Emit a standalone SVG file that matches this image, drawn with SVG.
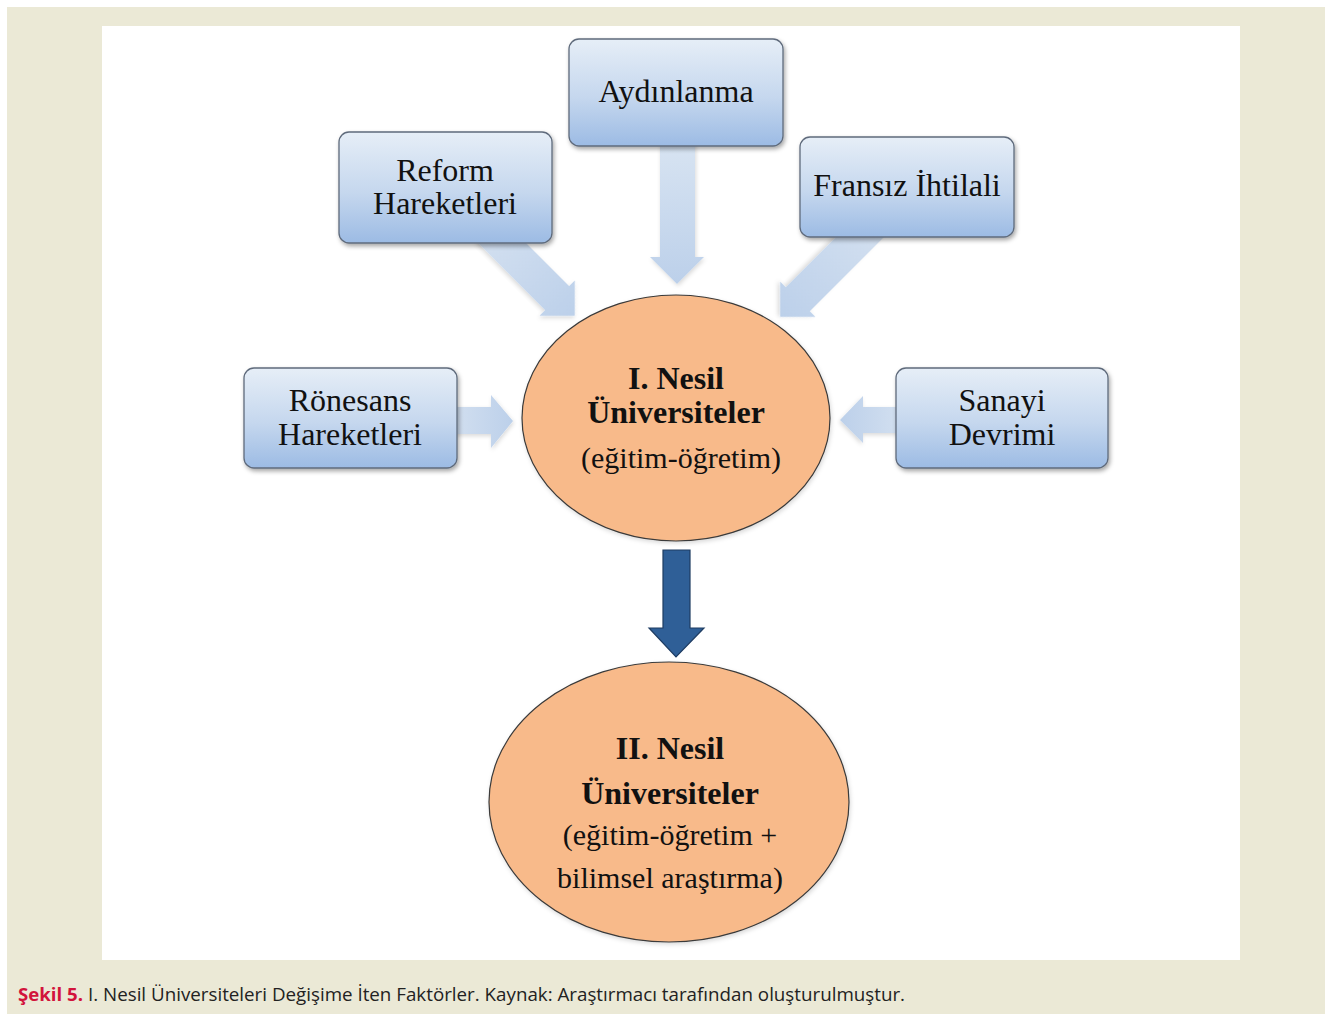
<svg xmlns="http://www.w3.org/2000/svg" width="1325" height="1014" viewBox="0 0 1325 1014">
<defs>
<linearGradient id="boxg" x1="0" y1="0" x2="0" y2="1">
<stop offset="0" stop-color="#E6EEF7"/>
<stop offset="0.55" stop-color="#C5D7EE"/>
<stop offset="1" stop-color="#9CBBE4"/>
</linearGradient>
<linearGradient id="arrg" x1="0" y1="0" x2="1" y2="0">
<stop offset="0" stop-color="#D3E0F0"/>
<stop offset="1" stop-color="#BCD0EA"/>
</linearGradient>
<linearGradient id="arrv" x1="0" y1="0" x2="0" y2="1">
<stop offset="0" stop-color="#D8E4F2"/>
<stop offset="1" stop-color="#BCD0EA"/>
</linearGradient>
<filter id="sh" x="-10%" y="-10%" width="125%" height="130%">
<feDropShadow dx="1.5" dy="2.5" stdDeviation="2" flood-color="#000" flood-opacity="0.35"/>
</filter>
<filter id="shl" x="-20%" y="-20%" width="140%" height="140%">
<feDropShadow dx="1" dy="2" stdDeviation="2" flood-color="#000" flood-opacity="0.15"/>
</filter>
<style>
.box{fill:url(#boxg);stroke:#5F6B7C;stroke-width:1.3;filter:url(#sh)}
.bt{font-family:"Liberation Serif","Times New Roman",serif;font-size:32px;fill:#111;text-anchor:middle}
.ct{font-family:"Liberation Serif","Times New Roman",serif;font-size:32px;font-weight:bold;fill:#111;text-anchor:middle}
.cr{font-family:"Liberation Serif","Times New Roman",serif;font-size:30px;fill:#111;text-anchor:middle}
.ell{fill:#F8BA8A;stroke:#3A3A3A;stroke-width:1.2;filter:url(#shl)}
.la{fill:url(#arrg);filter:url(#shl)}
.lv{fill:url(#arrv);filter:url(#shl)}
.cap{font-family:"Open Sans","Liberation Sans",sans-serif;font-size:18px;fill:#222}
.capb{font-family:"Open Sans","Liberation Sans",sans-serif;font-size:18px;fill:#D2143C;font-weight:bold}
</style>
</defs>
<rect x="0" y="0" width="1325" height="1014" fill="#FFFFFF"/>
<rect x="7" y="7" width="1318" height="1007" fill="#EBE9D6"/>
<rect x="102" y="26" width="1138" height="934" fill="#FFFFFF"/>

<g id="connectors">
<polygon class="lv" points="660,140 695,140 695,257 704,257 677,284 650,257 660,257"/>
<polygon class="la" transform="translate(502,243) rotate(45)" points="-20,-17 78,-17 78,-25 103,0 78,25 78,17 -20,17"/>
<polygon class="la" transform="translate(860,237) rotate(135)" points="-20,-17 88,-17 88,-25 113,0 88,25 88,17 -20,17"/>
<polygon class="la" points="450,407 491,407 491,395 513,421 491,448 491,434 450,434"/>
<polygon class="la" transform="translate(1743,0) scale(-1,1)" points="840,407 880,407 880,396 903,420 880,443 880,433 840,433"/>
<polygon points="663,550 690,550 690,628 704,628 676,657 649,628 663,628" fill="#2F5F97" stroke="#1E3C62" stroke-width="1.2"/>
</g>

<g id="aydinlanma">
<rect class="box" x="569" y="39" width="214" height="107" rx="10"/>
<text class="bt" x="676" y="102">Aydınlanma</text>
</g>
<g id="reform">
<rect class="box" x="339" y="132" width="213" height="111" rx="10"/>
<text class="bt" x="445" y="181">Reform</text>
<text class="bt" x="445" y="214">Hareketleri</text>
</g>
<g id="fransiz">
<rect class="box" x="800" y="137" width="214" height="100" rx="10"/>
<text class="bt" x="907" y="196">Fransız İhtilali</text>
</g>
<g id="ronesans">
<rect class="box" x="244" y="368" width="213" height="100" rx="10"/>
<text class="bt" x="350" y="411">Rönesans</text>
<text class="bt" x="350" y="445">Hareketleri</text>
</g>
<g id="sanayi">
<rect class="box" x="896" y="368" width="212" height="100" rx="10"/>
<text class="bt" x="1002" y="411">Sanayi</text>
<text class="bt" x="1002" y="445">Devrimi</text>
</g>
<g id="nesil1">
<ellipse class="ell" cx="676" cy="418" rx="154" ry="123"/>
<text class="ct" x="676" y="389">I. Nesil</text>
<text class="ct" x="676" y="423">Üniversiteler</text>
<text class="cr" x="681" y="468">(eğitim-öğretim)</text>
</g>
<g id="nesil2">
<ellipse class="ell" cx="669" cy="802" rx="180" ry="140"/>
<text class="ct" x="670" y="759">II. Nesil</text>
<text class="ct" x="670" y="804">Üniversiteler</text>
<text class="cr" x="670" y="845">(eğitim-öğretim +</text>
<text class="cr" x="670" y="888">bilimsel araştırma)</text>
</g>

<g id="caption">
<text class="capb" x="18" y="1001" textLength="65" lengthAdjust="spacingAndGlyphs">Şekil 5.</text>
<text class="cap" x="88" y="1001" textLength="817" lengthAdjust="spacingAndGlyphs">I. Nesil Üniversiteleri Değişime İten Faktörler. Kaynak: Araştırmacı tarafından oluşturulmuştur.</text>
</g>
</svg>
